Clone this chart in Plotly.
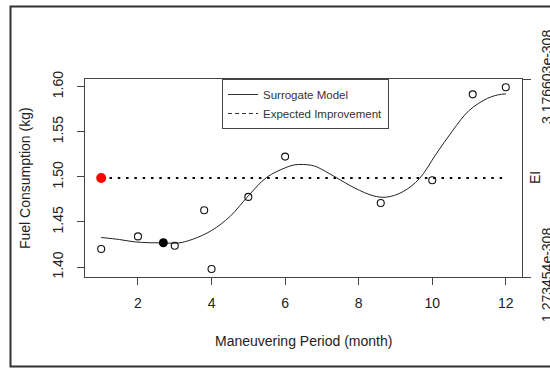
import plotly.graph_objects as go

# ---- data ----
months = [1, 2, 3, 3.8, 4, 5, 6, 8.6, 10, 11.1, 12]
fuel = [1.420, 1.434, 1.4236, 1.463, 1.3978, 1.4778, 1.5225, 1.471, 1.4963, 1.5915, 1.5993]

surr_x = [1.0, 1.5, 1.9, 2.3, 2.7, 3.1, 3.5, 4.0, 4.5, 5.0, 5.5, 6.0, 6.25, 6.5, 6.8,
          7.1, 7.4, 7.9, 8.4, 8.75, 9.2, 9.65, 10.1, 10.55, 11.0, 11.5, 11.8, 12.0]
surr_y = [1.4328, 1.4305, 1.4280, 1.4270, 1.4268, 1.4267, 1.4310, 1.4405, 1.4560, 1.4790,
          1.4995, 1.5100, 1.5133, 1.5137, 1.5120, 1.5060, 1.4990, 1.4875, 1.4790, 1.4775,
          1.4835, 1.4980, 1.5250, 1.5510, 1.5735, 1.5870, 1.5910, 1.5920]

best_x = [2.69]
best_y = [1.427]

# Expected improvement (in units of 1e-308), constant
ei_x = [1, 2, 3, 4, 5, 6, 7, 8, 9, 10, 11, 12]
ei_y = [2.225074, 2.225074, 2.225074, 2.225074, 2.225074, 2.225074,
        2.225074, 2.225074, 2.225074, 2.225074, 2.225074, 2.225074]
ei_max_x = [1]
ei_max_y = [2.225074]

x_ticks = [2, 4, 6, 8, 10, 12]
y_ticks = [1.40, 1.45, 1.50, 1.55, 1.60]
ei_ticks = [1.273454, 3.176603]
ei_ticktext = ["1.273454e-308", "3.176603e-308"]

FONT = "Liberation Sans, Arial, sans-serif"
AX = "#444444"

fig = go.Figure()

fig.add_trace(go.Scatter(x=surr_x, y=surr_y, mode="lines", line=dict(color="#222222", width=1),
                         line_shape="spline", showlegend=False, hoverinfo="skip"))
fig.add_trace(go.Scatter(x=ei_x, y=ei_y, yaxis="y2", mode="lines",
                         line=dict(color="#000000", width=2, dash="2.5px,5.8px"),
                         showlegend=False))
fig.add_trace(go.Scatter(x=months, y=fuel, mode="markers",
                         marker=dict(symbol="circle-open", size=7, color="#111111",
                                     line=dict(width=1.1)),
                         showlegend=False))
fig.add_trace(go.Scatter(x=best_x, y=best_y, mode="markers",
                         marker=dict(symbol="circle", size=9, color="#000000"),
                         showlegend=False))
fig.add_trace(go.Scatter(x=ei_max_x, y=ei_max_y, yaxis="y2", mode="markers",
                         marker=dict(symbol="circle", size=10, color="#ff0000"),
                         showlegend=False))

# legend-only entries (R legend styles)
fig.add_trace(go.Scatter(x=[None], y=[None], mode="lines", name="Surrogate Model",
                         line=dict(color="#333333", width=1)))
fig.add_trace(go.Scatter(x=[None], y=[None], mode="lines", name="Expected Improvement",
                         line=dict(color="#333333", width=1, dash="4px,3px")))

fig.update_layout(
    width=550, height=369,
    margin=dict(l=85, r=28, t=79, b=92, autoexpand=False),
    paper_bgcolor="white", plot_bgcolor="white",
    font=dict(family=FONT, size=14, color="#222222"),
    showlegend=True,
    legend=dict(x=(222 - 85) / 437, y=1, xanchor="left", yanchor="top",
                bordercolor=AX, borderwidth=1, bgcolor="white",
                font=dict(size=11.5, color="#333333"),
                tracegroupgap=0, itemwidth=30),
    xaxis=dict(range=[0.56, 12.44], tickvals=x_ticks, ticks="outside", ticklen=7,
               tickcolor=AX, showline=True, linecolor=AX, linewidth=1, mirror=True,
               showgrid=False, zeroline=False, ticklabelstandoff=6, automargin=False),
    yaxis=dict(range=[1.389, 1.6085], tickvals=y_ticks, tickformat=".2f",
               tickangle=-90, ticks="outside", ticklen=7, tickcolor=AX,
               showline=True, linecolor=AX, linewidth=1, mirror=True,
               showgrid=False, zeroline=False, ticklabelstandoff=8, automargin=False),
    yaxis2=dict(overlaying="y", side="right", anchor="x",
                range=[1.273454, 3.176603], tickvals=ei_ticks, ticktext=ei_ticktext,
                tickangle=-90, ticks="outside", ticklen=8, tickcolor=AX,
                showline=False, showgrid=False, zeroline=False, ticklabelstandoff=4,
                automargin=False),
    annotations=[
        dict(text="Fuel Consumption (kg)", xref="paper", yref="paper", x=0, y=0.5,
             xshift=-60, textangle=-90, showarrow=False, xanchor="center", yanchor="middle",
             font=dict(size=14, color="#222222")),
        dict(text="Maneuvering Period (month)", xref="paper", yref="paper", x=0.5, y=0,
             yshift=-64, showarrow=False, xanchor="center", yanchor="middle",
             font=dict(size=14, color="#222222")),
        dict(text="EI", xref="paper", yref="paper", x=1, y=0.5, xshift=13,
             textangle=-90, showarrow=False, xanchor="center", yanchor="middle",
             font=dict(size=14, color="#222222")),
    ],
    shapes=[
        dict(type="rect", xref="paper", yref="paper",
             x0=(10.5 - 85) / 437, x1=(600 - 85) / 437,
             y0=-(366.5 - 277) / 198, y1=1 + (79 - 6.5) / 198,
             line=dict(color="#333333", width=2), layer="below"),
    ],
)

fig.write_html("out.html")
